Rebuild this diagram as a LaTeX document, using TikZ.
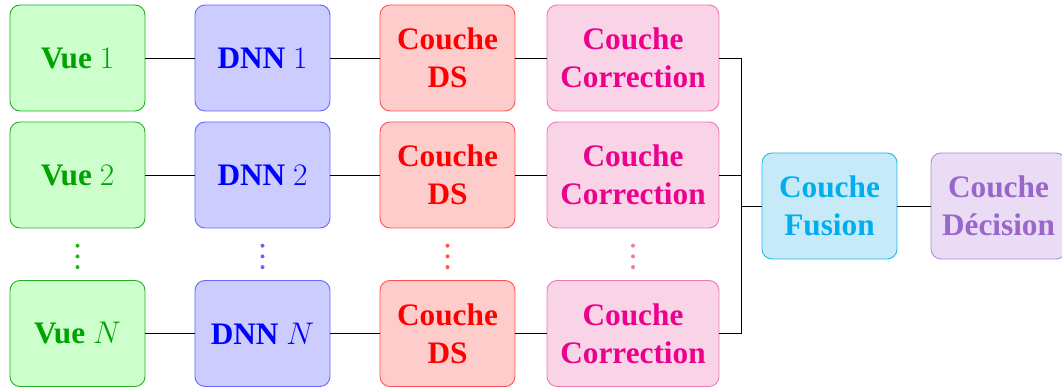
\RequirePackage{fix-cm}
\documentclass[tikz,border=0pt]{standalone}
\usepackage[no-math]{fontspec}
\setmainfont{Liberation Serif}
\definecolor{vueF}{HTML}{CCFFCC}\definecolor{vueD}{HTML}{22B022}\definecolor{vueT}{HTML}{00A300}
\definecolor{dnnF}{HTML}{CCCCFF}\definecolor{dnnD}{HTML}{6666FF}\definecolor{dnnT}{HTML}{0000FF}
\definecolor{dsF}{HTML}{FFCCCC}\definecolor{dsD}{HTML}{FF5050}\definecolor{dsT}{HTML}{FF0000}
\definecolor{coF}{HTML}{F9D3E6}\definecolor{coD}{HTML}{EE78B6}\definecolor{coT}{HTML}{EC008C}
\definecolor{fuF}{HTML}{C7EAF8}\definecolor{fuD}{HTML}{20B8EC}\definecolor{fuT}{HTML}{00AEEF}
\definecolor{deF}{HTML}{EADCF4}\definecolor{deD}{HTML}{B08AD8}\definecolor{deT}{HTML}{9966CC}
\tikzset{
  box/.style={draw=#1D, fill=#1F, text=#1T, rounded corners=10pt, line width=0.9pt,
    minimum width=135pt, minimum height=106pt, inner sep=0pt, align=center,
    font=\fontsize{31.3}{38}\selectfont\bfseries},
  wide/.style={minimum width=172pt},
  link/.style={line width=0.9pt, black},
  dotc/.style={fill=#1, draw=none, circle, inner sep=0pt, minimum size=4pt}
}
\begin{document}
\begin{tikzpicture}[x=1pt,y=-1pt]
\useasboundingbox (0,0) rectangle (1062,387);
% row 1
\node[box=vue] (v1) at (77.5,58) {Vue $1$};
\node[box=dnn] (d1) at (262.5,58) {DNN $1$};
\node[box=ds]  (s1) at (447.5,58) {Couche\\DS};
\node[box=co,wide] (c1) at (633,58) {Couche\\Correction};
% row 2
\node[box=vue] (v2) at (77.5,175) {Vue $2$};
\node[box=dnn] (d2) at (262.5,175) {DNN $2$};
\node[box=ds]  (s2) at (447.5,175) {Couche\\DS};
\node[box=co,wide] (c2) at (633,175) {Couche\\Correction};
% row N
\node[box=vue] (vN) at (77.5,333.5) {Vue $N$};
\node[box=dnn] (dN) at (262.5,333.5) {DNN $N$};
\node[box=ds]  (sN) at (447.5,333.5) {Couche\\DS};
\node[box=co,wide] (cN) at (633,333.5) {Couche\\Correction};
% fusion, decision
\node[box=fu] (fu) at (829.5,206) {Couche\\Fusion};
\node[box=de] (de) at (998.5,206) {Couche\\Décision};
% dots
\foreach \x/\c/\n in {77.5/vueD/A, 262.5/dnnD/B, 447.5/dsD/C, 633/coD/D}{
  \node[dotc=\c] (dot\n1) at (\x,245.7) {};
  \node[dotc=\c] (dot\n2) at (\x,256.4) {};
  \node[dotc=\c] (dot\n3) at (\x,267.1) {};
}
% links
\foreach \r in {1,2,N}{
  \draw[link] (v\r) -- (d\r);
  \draw[link] (d\r) -- (s\r);
  \draw[link] (s\r) -- (c\r);
}
\coordinate (bus) at (741,206);
\draw[link] (c1.east) -| (bus);
\draw[link] (c2.east) -| (bus);
\draw[link] (cN.east) -| (bus);
\draw[link] (bus) -- (fu.west);
\draw[link] (fu) -- (de);
\end{tikzpicture}
\end{document}
